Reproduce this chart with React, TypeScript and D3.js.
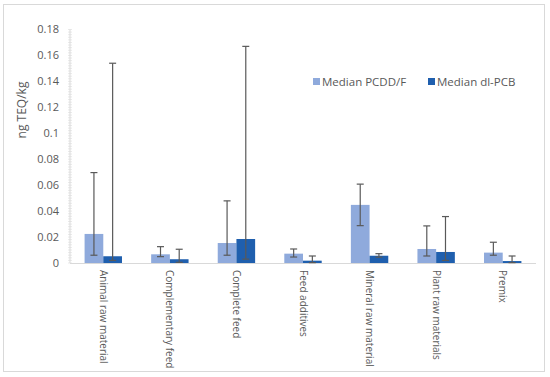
import React from 'react';
import * as d3 from 'd3';

const categories = [
  'Animal raw material',
  'Complementary feed',
  'Complete feed',
  'Feed additives',
  'Mineral raw material',
  'Plant raw materials',
  'Premix',
];
const seriesNames = ['Median PCDD/F', 'Median dl-PCB'];
const pcddMedian = [0.0224, 0.0067, 0.0154, 0.0072, 0.0448, 0.0108, 0.008];
const pcddLow = [0.006, 0.0049, 0.006, 0.0046, 0.0288, 0.0054, 0.006];
const pcddHigh = [0.0697, 0.0126, 0.0479, 0.0108, 0.0608, 0.0286, 0.016];
const pcbMedian = [0.0052, 0.0029, 0.0185, 0.0018, 0.0056, 0.0085, 0.0015];
const pcbLow = [0.002, 0.0005, 0.003, 0.0003, 0.0045, 0.002, 0.0003];
const pcbHigh = [0.154, 0.0106, 0.167, 0.0054, 0.0072, 0.0358, 0.0054];
const yTicks = [0, 0.02, 0.04, 0.06, 0.08, 0.1, 0.12, 0.14, 0.16, 0.18];

const colors = ['#8faadc', '#1f5fae'];
const font = '"Open Sans", "Liberation Sans", sans-serif';

export default function App() {
  const W = 550;
  const H = 377;
  const left = 70;
  const right = 536;
  const top = 29.5;
  const bottom = 263;

  const x = d3.scaleBand<string>().domain(categories).range([left, right]);
  const y = d3.scaleLinear().domain([0, 0.18]).range([bottom, top]);
  const barW = 18.7;

  const series = [
    { med: pcddMedian, lo: pcddLow, hi: pcddHigh },
    { med: pcbMedian, lo: pcbLow, hi: pcbHigh },
  ];

  const minor = d3.range(0, 0.1801, 0.002);

  return (
    <svg width={W} height={H} style={{ position: 'absolute', left: 0, top: 0 }}>
      <rect x={0} y={0} width={W} height={H} fill="#fff" />
      <rect x={3.5} y={4.5} width={541} height={367} fill="#fff" stroke="#d9d9d9" strokeWidth={1} />

      {/* minor ticks on the y axis */}
      {minor.map((v, i) => (
        <line key={'m' + i} x1={left - 2} x2={left + 2} y1={y(v)} y2={y(v)} stroke="#e3e3e3" strokeWidth={0.8} />
      ))}
      <line x1={left} x2={left} y1={top} y2={bottom} stroke="#d9d9d9" />
      <line x1={left} x2={right} y1={bottom + 0.5} y2={bottom + 0.5} stroke="#d9d9d9" />

      {yTicks.map((t) => (
        <text key={t} x={59} y={y(t)} dy="0.35em" textAnchor="end" fontFamily={font} fontSize={11} fill="#595959">
          {d3.format('')(t)}
        </text>
      ))}

      <text
        transform={`translate(22,110) rotate(-90)`}
        textAnchor="middle"
        dy="0.35em"
        fontFamily={font}
        fontSize={12}
        fill="#595959"
      >
        ng TEQ/kg
      </text>

      {categories.map((c, i) => {
        const cx = x(c)! + x.bandwidth() / 2;
        return (
          <g key={c}>
            {series.map((s, k) => {
              const bx = cx - barW + k * barW;
              return (
                <rect key={k} x={bx} y={y(s.med[i])} width={barW} height={bottom - y(s.med[i])} fill={colors[k]} />
              );
            })}
            {series.map((s, k) => {
              const ex = cx - barW / 2 + k * barW;
              return (
                <g key={'e' + k} stroke="#595959" strokeWidth={1.2}>
                  <line x1={ex} x2={ex} y1={y(s.hi[i])} y2={y(s.lo[i])} />
                  <line x1={ex - 3.5} x2={ex + 3.5} y1={y(s.hi[i])} y2={y(s.hi[i])} />
                  <line x1={ex - 3.5} x2={ex + 3.5} y1={y(s.lo[i])} y2={y(s.lo[i])} />
                </g>
              );
            })}
            <text
              transform={`translate(${cx},${270}) rotate(90)`}
              dy="0.35em"
              fontFamily={font}
              fontSize={10}
              fill="#595959"
            >
              {c}
            </text>
          </g>
        );
      })}

      {seriesNames.map((n, k) => {
        const lx = [313, 428][k];
        return (
          <g key={n}>
            <rect x={lx} y={78} width={7} height={7} fill={colors[k]} />
            <text x={lx + 9} y={81.5} dy="0.35em" fontFamily={font} fontSize={11.5} fill="#595959">
              {n}
            </text>
          </g>
        );
      })}
    </svg>
  );
}
